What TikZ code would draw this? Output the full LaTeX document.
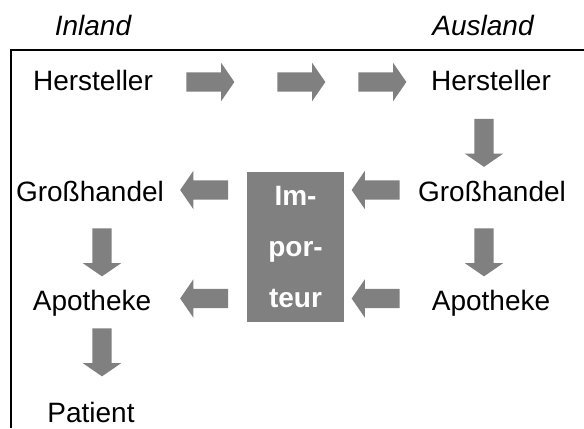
\documentclass[tikz,border=0pt]{standalone}
\usepackage{fontspec}
\setmainfont{Liberation Sans}
\usetikzlibrary{shapes.arrows}

\definecolor{flowgray}{HTML}{808080}

\begin{document}
\begin{tikzpicture}[
      x=1bp, y=-1bp,
      station/.style={font=\fontsize{28bp}{34bp}\selectfont, inner sep=0pt, anchor=base},
      region/.style={station, font=\fontsize{28bp}{34bp}\selectfont\itshape},
      flow/.style={single arrow, fill=flowgray, draw=none, inner sep=0pt,
        inner ysep=9.5bp, minimum height=48bp, single arrow head extend=9.5bp,
        single arrow tip angle=111},
      importer/.style={rectangle, fill=flowgray, text=white, minimum width=97bp,
        minimum height=150bp, align=center,
        font=\fontsize{28bp}{51bp}\selectfont\bfseries}
  ]
  \useasboundingbox (0,0) rectangle (584,428);

  % Rahmen
  \draw[line width=1.5bp] (11,428) -- (11,50) -- (584,50);

  \node[region] (inland) at (93,35) {Inland};
  \node[region] (ausland) at (483,35) {Ausland};

  % Inland
  \node[station] (hin) at (93,90) {Hersteller};
  \node[station] (gin) at (90,201) {Großhandel};
  \node[station] (ain) at (92,310) {Apotheke};
  \node[station] (pat) at (91,422) {Patient};

  % Ausland
  \node[station] (haus) at (491,90) {Hersteller};
  \node[station] (gaus) at (492,201) {Großhandel};
  \node[station] (aaus) at (491,310) {Apotheke};

  \node[importer] (imp) at (295.5,247) {Im-\\por-\\teur};

  \foreach \x [count=\i] in {207,298,379} {
      \node[flow] (r\i) at (\x,82) {};
  }

  \foreach \y [count=\i] in {190,298.5} {
      \node[flow, rotate=180] (li\i) at (207.5,\y) {};
      \node[flow, rotate=180] (la\i) at (379,\y) {};
  }

  \node[flow, rotate=-90] (da1) at (484,139.5) {};
  \node[flow, rotate=-90] (da2) at (484,249) {};
  \node[flow, rotate=-90] (di1) at (102,249) {};
  \node[flow, rotate=-90] (di2) at (102,349) {};
  \end{tikzpicture}
\end{document}
